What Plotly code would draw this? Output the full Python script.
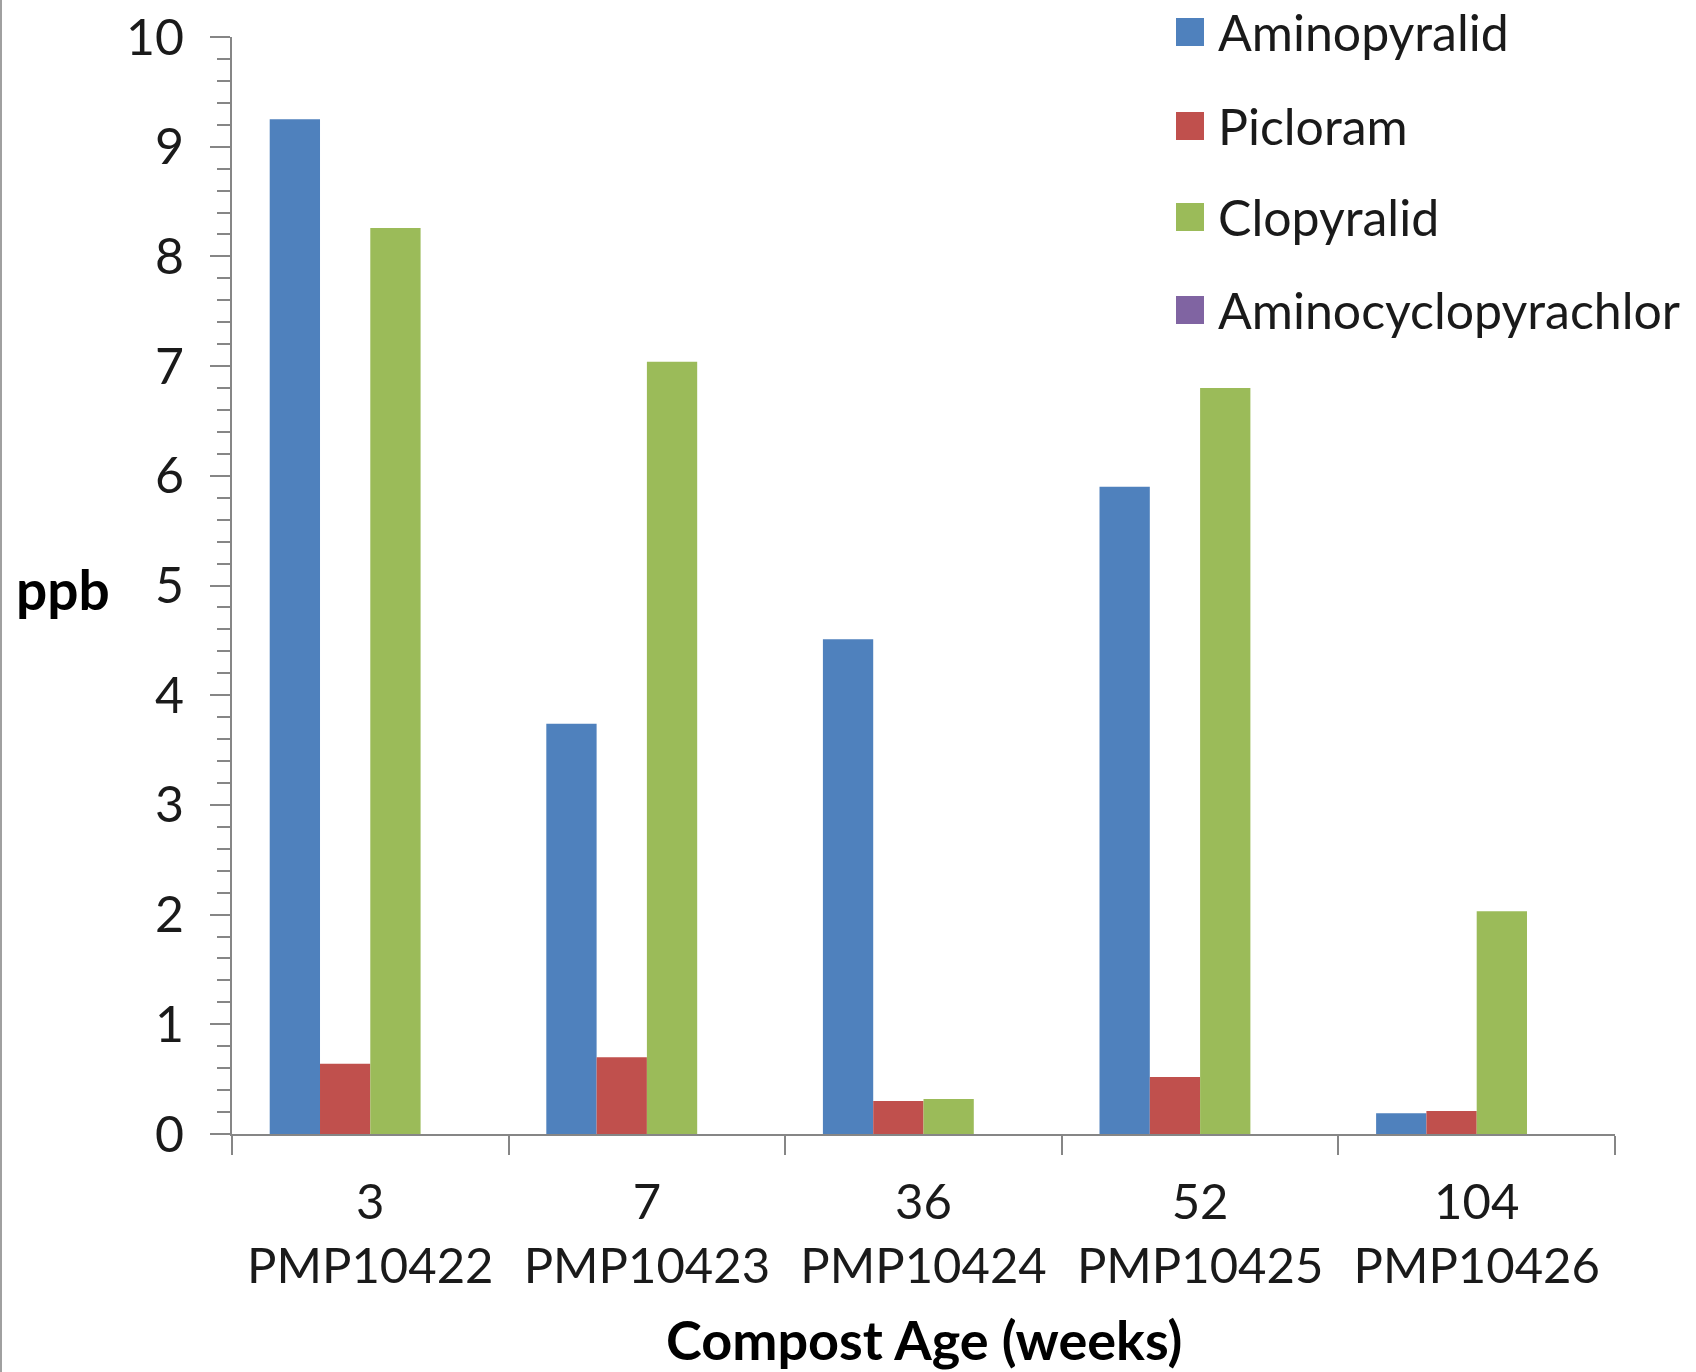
import plotly.graph_objects as go

# Compost samples: age in weeks and sample id
ages = ["3", "7", "36", "52", "104"]
samples = ["PMP10422", "PMP10423", "PMP10424", "PMP10425", "PMP10426"]

# Herbicide residues (ppb) per sample
aminopyralid = [9.25, 3.74, 4.51, 5.90, 0.19]
picloram = [0.64, 0.70, 0.30, 0.52, 0.21]
clopyralid = [8.26, 7.04, 0.32, 6.80, 2.03]
aminocyclopyrachlor = [0, 0, 0, 0, 0]

series_names = ["Aminopyralid", "Picloram", "Clopyralid", "Aminocyclopyrachlor"]
series_values = [aminopyralid, picloram, clopyralid, aminocyclopyrachlor]
series_colors = ["#4F81BD", "#C0504D", "#9BBB59", "#8064A2"]

categories = [f"{a}<br>{s}" for a, s in zip(ages, samples)]

W, H = 1696, 1372
L, R, T, B = 232, 81, 37, 238
PW, PH = W - L - R, H - T - B

FONT = "Lato, Carlito, Calibri, sans-serif"
AXIS_COLOR = "#868686"
TEXT_COLOR = "#1a1a1a"

fig = go.Figure()
for name, vals, col in zip(series_names, series_values, series_colors):
    fig.add_trace(go.Bar(
        x=categories, y=vals, name=name,
        marker=dict(color=col, line=dict(width=0)),
        showlegend=False,
    ))


def px_to_paper_x(px):
    return (px - L) / PW


def px_to_paper_y(py):
    return (H - B - py) / PH


# Legend drawn as swatches + labels
shapes = []
annotations = []
row_y = [32, 126, 217, 310]
for name, col, yc in zip(series_names, series_colors, row_y):
    shapes.append(dict(
        type="rect", xref="paper", yref="paper",
        x0=px_to_paper_x(1176), x1=px_to_paper_x(1204),
        y0=px_to_paper_y(yc + 14), y1=px_to_paper_y(yc - 14),
        fillcolor=col, line=dict(width=0),
    ))
    annotations.append(dict(
        text=name, xref="paper", yref="paper",
        x=px_to_paper_x(1216), y=px_to_paper_y(yc),
        xanchor="left", yanchor="middle", showarrow=False,
        font=dict(family=FONT, size=50, color=TEXT_COLOR),
    ))

# Axis titles
annotations.append(dict(
    text="<b>ppb</b>", xref="paper", yref="paper",
    x=px_to_paper_x(14), y=px_to_paper_y(589),
    xanchor="left", yanchor="middle", showarrow=False,
    font=dict(family=FONT, size=55, color="#000000"),
))
annotations.append(dict(
    text="<b>Compost Age (weeks)</b>", xref="paper", yref="paper",
    x=0.5, y=px_to_paper_y(1339),
    xanchor="center", yanchor="middle", showarrow=False,
    font=dict(family=FONT, size=54, color="#000000"),
))

# Chart border on the left edge
shapes.append(dict(
    type="line", xref="paper", yref="paper",
    x0=px_to_paper_x(1), x1=px_to_paper_x(1), y0=px_to_paper_y(0), y1=px_to_paper_y(H),
    line=dict(color="#a0a0a0", width=2),
))

fig.update_layout(
    width=W, height=H,
    margin=dict(l=L, r=R, t=T, b=B, pad=0, autoexpand=False),
    paper_bgcolor="white", plot_bgcolor="white",
    barmode="group", bargap=0.2727, bargroupgap=0,
    showlegend=False,
    shapes=shapes, annotations=annotations,
    xaxis=dict(
        automargin=False,
        showline=True, linecolor=AXIS_COLOR, linewidth=2,
        ticks="outside", ticklen=19, tickwidth=2, tickcolor=AXIS_COLOR,
        tickson="boundaries", showgrid=False,
        tickfont=dict(family=FONT, size=49, color=TEXT_COLOR),
        ticklabelstandoff=24,
    ),
    yaxis=dict(
        automargin=False,
        range=[0, 10], dtick=1, tick0=0,
        showline=True, linecolor=AXIS_COLOR, linewidth=2,
        ticks="outside", ticklen=20, tickwidth=2, tickcolor=AXIS_COLOR,
        minor=dict(dtick=0.2, ticks="outside", ticklen=13, tickwidth=2,
                   tickcolor=AXIS_COLOR, showgrid=False),
        showgrid=False, zeroline=False,
        tickfont=dict(family=FONT, size=50, color=TEXT_COLOR),
        ticklabelstandoff=16,
    ),
    # inner half of the crossing major ticks
    yaxis2=dict(
        automargin=False,
        range=[0, 10], dtick=1, tick0=0, overlaying="y", anchor="x", side="left",
        ticks="inside", ticklen=17, tickwidth=2, tickcolor=AXIS_COLOR,
        showticklabels=False, showgrid=False, zeroline=False, showline=False,
    ),
)

fig.write_html("out.html")
